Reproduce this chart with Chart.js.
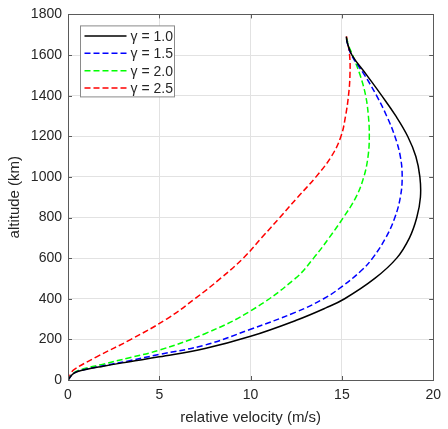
<!DOCTYPE html>
<html>
<head>
<meta charset="utf-8">
<script src="https://cdn.jsdelivr.net/npm/chart.js@4.4.1/dist/chart.umd.min.js"></script>
<style>
html,body{margin:0;padding:0;background:#fff;}
#wrap{width:448px;height:429px;}
</style>
</head>
<body>
<div id="wrap"><canvas id="c" width="448" height="429"></canvas></div>
<script>
// ---- data ----
const seriesLabels = ["\u03b3 = 1.0", "\u03b3 = 1.5", "\u03b3 = 2.0", "\u03b3 = 2.5"];
const seriesColors = ["#000000", "#0000ff", "#00ff00", "#ff0000"];

const g10_vel = [0, 0.31, 0.85, 1.93, 3.37, 5, 7.5, 10, 12.5, 14.12, 15.15, 16.8, 18.0, 18.7, 19.1, 19.3, 19.27, 19.05, 18.6, 17.95, 17.18, 16.37, 15.55, 15.29, 15.24];
const g10_alt = [0, 33, 49, 68, 90, 114, 155, 215, 294, 355, 400, 500, 600, 700, 800, 900, 1000, 1100, 1200, 1300, 1400, 1500, 1600, 1662, 1690];

const g15_vel = [0, 0.31, 0.85, 1.93, 3.37, 5, 7.5, 10, 12.5, 14, 15, 16.08, 16.68, 17.4, 17.9, 18.2, 18.3, 18.2, 17.9, 17.45, 16.9, 16.25, 15.52, 15.29, 15.24];
const g15_alt = [0, 33, 50, 70, 95, 126, 172, 250, 335, 400, 460, 540, 600, 700, 800, 900, 1000, 1100, 1200, 1300, 1400, 1500, 1600, 1662, 1690];

const g20_vel = [0, 0.31, 0.85, 1.93, 3.37, 5, 7.5, 10, 12.45, 13.45, 14.3, 15.08, 15.77, 16.2, 16.43, 16.5, 16.45, 16.3, 16.0, 15.58, 15.35, 15.24];
const g20_alt = [0, 35, 55, 78, 110, 147, 228, 340, 500, 600, 700, 800, 900, 1000, 1100, 1200, 1300, 1400, 1500, 1600, 1650, 1690];

const g25_vel = [0, 0.15, 0.31, 1.57, 3.45, 5.4, 6.95, 8.35, 9.6, 10.6, 11.6, 12.58, 13.58, 14.42, 14.95, 15.2, 15.36, 15.44, 15.42, 15.24];
const g25_alt = [0, 30, 50, 114, 200, 300, 400, 500, 600, 700, 800, 900, 1000, 1100, 1200, 1300, 1400, 1500, 1600, 1697];

const xTicks = [0, 5, 10, 15, 20];
const yTicks = [0, 200, 400, 600, 800, 1000, 1200, 1400, 1600, 1800];
const xTitle = "relative velocity (m/s)";
const yTitle = "altitude (km)";

function pts(xs, ys){ return xs.map((v,i)=>({x:v, y:ys[i]})); }
const allVel = [g10_vel, g15_vel, g20_vel, g25_vel];
const allAlt = [g10_alt, g15_alt, g20_alt, g25_alt];
const dashes = [[], [6,3], [6,3], [6,3]];

const datasets = seriesLabels.map((lab,i)=>({
  label: lab,
  data: pts(allVel[i], allAlt[i]),
  showLine: true,
  borderColor: seriesColors[i],
  backgroundColor: seriesColors[i],
  borderWidth: 1.5,
  borderDash: dashes[i],
  pointRadius: 0,
  tension: 0.4,
  fill: false
}));

const FONT = "'Liberation Sans', Arial, Helvetica, sans-serif";

const framePlugin = {
  id: 'frame',
  afterDatasetsDraw(chart){
    const {ctx, chartArea:a, scales} = chart;
    ctx.save();
    ctx.strokeStyle = '#5a5a5a';
    ctx.lineWidth = 1;
    const L = 4;
    ctx.beginPath();
    xTicks.forEach(v=>{
      const px = Math.round(scales.x.getPixelForValue(v))+0.5;
      ctx.moveTo(px, a.bottom); ctx.lineTo(px, a.bottom-L);
      ctx.moveTo(px, a.top); ctx.lineTo(px, a.top+L);
    });
    yTicks.forEach(v=>{
      const py = Math.round(scales.y.getPixelForValue(v))+0.5;
      ctx.moveTo(a.left, py); ctx.lineTo(a.left+L, py);
      ctx.moveTo(a.right, py); ctx.lineTo(a.right-L, py);
    });
    ctx.stroke();
    ctx.strokeRect(Math.round(a.left)+0.5, Math.round(a.top)+0.5, Math.round(a.right-a.left), Math.round(a.bottom-a.top));
    ctx.restore();

    // legend box
    const bx = a.left + 12.5, by = a.top + 11.5, bw = 94, bh = 71;
    ctx.save();
    ctx.fillStyle = '#fff';
    ctx.fillRect(bx, by, bw, bh);
    ctx.strokeStyle = '#8a8a8a';
    ctx.lineWidth = 1;
    ctx.strokeRect(bx, by, bw, bh);
    chart.data.datasets.forEach((ds,i)=>{
      const y = by + 10 + i*17.4;
      ctx.strokeStyle = ds.borderColor;
      ctx.lineWidth = 1.5;
      ctx.setLineDash(ds.borderDash || []);
      ctx.beginPath();
      ctx.moveTo(bx+4, y); ctx.lineTo(bx+46, y);
      ctx.stroke();
      ctx.setLineDash([]);
      ctx.fillStyle = '#262626';
      ctx.font = '14px ' + FONT;
      ctx.textBaseline = 'middle';
      ctx.textAlign = 'left';
      ctx.fillText(ds.label, bx+50, y+1);
    });
    ctx.restore();
  }
};

new Chart(document.getElementById('c'), {
  type: 'scatter',
  data: { datasets },
  options: {
    responsive: false,
    animation: false,
    devicePixelRatio: 1,
    layout: { padding: { left: 0, top: 12, right: 9, bottom: 0 } },
    plugins: { legend: { display: false }, tooltip: { enabled: false } },
    scales: {
      x: {
        type: 'linear', min: 0, max: 20,
        afterBuildTicks(s){ s.ticks = xTicks.map(v=>({value:v})); },
        afterFit(s){ s.height = 49; },
        ticks: { color: '#262626', font: { family: FONT, size: 14 }, padding: 7, maxRotation: 0, callback: v => String(v) },
        grid: { color: '#e2e2e2', drawTicks: false, lineWidth: 1 },
        border: { display: false },
        title: { display: true, text: xTitle, color: '#262626', font: { family: FONT, size: 15 }, padding: { top: 0, bottom: 2 } }
      },
      y: {
        type: 'linear', min: 0, max: 1800,
        afterBuildTicks(s){ s.ticks = yTicks.map(v=>({value:v})); },
        afterFit(s){ s.width = 68; },
        ticks: { color: '#262626', font: { family: FONT, size: 14 }, padding: 6, callback: v => String(v) },
        grid: { color: '#e2e2e2', drawTicks: false, lineWidth: 1 },
        border: { display: false },
        title: { display: true, text: yTitle, color: '#262626', font: { family: FONT, size: 15 }, padding: { top: 6, bottom: 0 } }
      }
    }
  },
  plugins: [framePlugin]
});
</script>
</body>
</html>
